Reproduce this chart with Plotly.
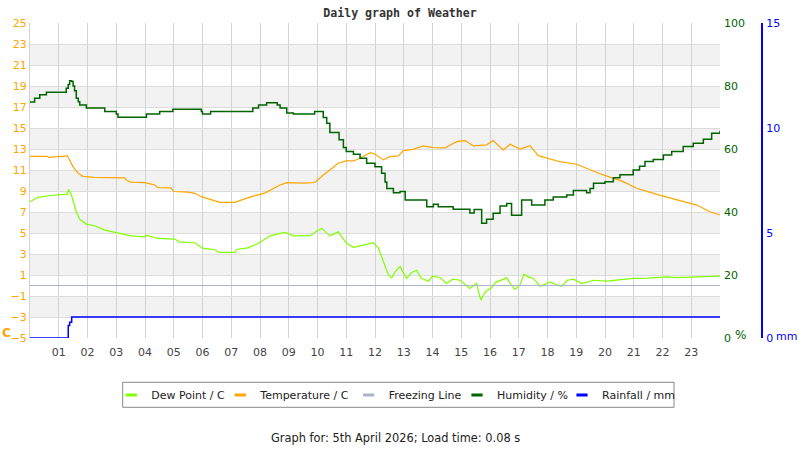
import plotly.graph_objects as go

# ---------------- data ----------------
hour_ticks = list(range(1, 24))
hour_labels = [f"{h:02d}" for h in hour_ticks]

temp_t = [0, 0.6, 0.65, 1.3, 1.5, 1.67, 1.84, 2.25, 3.3, 3.35, 3.5, 4.0, 4.34, 4.45, 4.9, 5.0, 5.5,
          5.73, 5.96, 6.31, 6.6, 7.12, 7.35, 7.7, 8.0, 8.16, 8.7, 8.93, 9.5, 9.85, 9.95, 10.2, 10.43,
          10.72, 11.0, 11.25, 11.48, 11.83, 12.0, 12.29, 12.52, 12.81, 12.99, 13.33, 13.68, 14.03,
          14.43, 14.84, 15.13, 15.42, 15.88, 16.11, 16.46, 16.7, 17.04, 17.39, 17.68, 18.03, 18.43,
          19.01, 19.48, 19.94, 20.64, 21.1, 21.8, 22.49, 23.19, 23.65, 24.0]
temp_v = [12.3, 12.3, 12.2, 12.35, 11.3, 10.7, 10.4, 10.3, 10.25, 10.05, 9.85, 9.8, 9.57, 9.31, 9.3,
          8.95, 8.9, 8.78, 8.46, 8.14, 7.92, 7.92, 8.14, 8.46, 8.68, 8.8, 9.57, 9.8, 9.75, 9.8, 9.9,
          10.53, 11.0, 11.64, 11.86, 11.86, 12.12, 12.65, 12.5, 11.96, 12.27, 12.35, 12.84, 12.96,
          13.29, 13.13, 13.1, 13.7, 13.8, 13.3, 13.4, 13.8, 12.91, 13.45, 13.0, 13.32, 12.37, 12.12,
          11.79, 11.55, 11.0, 10.53, 9.89, 9.26, 8.68, 8.14, 7.66, 7.02, 6.71]

dew_t = [0, 0.28, 0.63, 1.2, 1.3, 1.34, 1.44, 1.61, 1.73, 1.96, 2.25, 2.6, 3.0, 3.52, 3.99, 4.05,
         4.45, 5.03, 5.2, 5.73, 6.02, 6.4, 6.6, 7.12, 7.2, 7.58, 7.93, 8.1, 8.35, 8.7, 8.88, 9.16,
         9.74, 10.03, 10.15, 10.43, 10.72, 11.02, 11.25, 11.6, 11.94, 12.12, 12.29, 12.47, 12.58,
         12.7, 12.87, 13.0, 13.1, 13.25, 13.45, 13.6, 13.86, 14.0, 14.26, 14.49, 14.7, 14.96, 15.3,
         15.53, 15.68, 15.83, 16.06, 16.2, 16.35, 16.58, 16.7, 16.87, 17.04, 17.18, 17.35, 17.51,
         17.74, 18.09, 18.3, 18.49, 18.7, 18.9, 19.19, 19.6, 20.06, 20.5, 20.99, 21.5, 22.15, 22.5,
         22.96, 23.5, 24.0]
dew_v = [7.98, 8.4, 8.55, 8.62, 8.7, 9.16, 8.62, 7.02, 6.3, 5.85, 5.69, 5.28, 5.02, 4.73, 4.64, 4.8,
         4.48, 4.42, 4.16, 4.07, 3.53, 3.43, 3.15, 3.15, 3.43, 3.59, 4.0, 4.3, 4.73, 4.96, 5.05, 4.73,
         4.75, 5.28, 5.44, 4.73, 5.11, 4.0, 3.63, 3.85, 4.07, 3.53, 2.25, 0.98, 0.73, 1.3, 1.8, 1.1,
         0.67, 1.2, 1.46, 0.7, 0.41, 0.9, 0.76, 0.19, 0.6, 0.5, -0.29, 0.2, -1.4, -0.61, -0.19,
         0.3, 0.5, 0.73, 0.2, -0.38, 0.03, 1.08, 0.8, 0.67, -0.07, 0.34, 0.1, -0.07, 0.5, 0.6, 0.19,
         0.5, 0.41, 0.55, 0.67, 0.7, 0.82, 0.75, 0.82, 0.85, 0.89]

hum_t = [0, 0.16, 0.34, 0.57, 1.26, 1.33, 1.38, 1.45, 1.5, 1.55, 1.61, 1.68, 1.73, 1.96, 2.6, 3.0,
         3.06, 4.05, 4.51, 4.97, 5.96, 6.0, 6.28, 7.75, 7.95, 8.23, 8.6, 8.7, 8.93, 9.16, 9.9, 10.2,
         10.32, 10.43, 10.75, 10.9, 11.0, 11.25, 11.48, 11.71, 12.0, 12.23, 12.35, 12.41, 12.64,
         12.87, 13.05, 13.8, 14.03, 14.2, 14.72, 15.3, 15.45, 15.71, 15.88, 16.11, 16.35, 16.58,
         16.75, 17.1, 17.45, 17.91, 18.2, 18.67, 18.9, 19.36, 19.48, 19.6, 20.0, 20.29, 20.52,
         20.98, 21.2, 21.39, 21.68, 22.03, 22.32, 22.72, 23.07, 23.42, 23.71, 24.0]
hum_v = [74.9, 76.1, 77.2, 78.0, 79.3, 80.5, 81.7, 81.4, 80.0, 78.5, 76.1, 75.0, 74.0, 73.0, 71.9,
         71.1, 70.1, 71.1, 71.9, 72.6, 71.9, 71.1, 71.9, 73.0, 74.0, 74.7, 74.0, 73.0, 71.4, 71.1,
         71.9, 70.0, 68.2, 65.2, 62.9, 60.5, 59.2, 58.3, 57.1, 55.5, 54.4, 52.3, 49.5, 47.5, 46.1,
         46.5, 43.8, 41.7, 42.5, 41.7, 40.9, 39.7, 40.8, 36.4, 37.7, 39.6, 41.9, 42.7, 39.0, 43.8,
         42.2, 43.8, 44.8, 45.4, 46.8, 46.1, 47.5, 49.1, 49.6, 50.9, 51.8, 53.3, 54.5, 56.0, 56.7,
         58.1, 59.2, 60.8, 61.8, 63.1, 65.0, 65.8]

rain_t = [0, 1.33, 1.38, 1.45, 24.0]
rain_v = [0, 0.6, 0.75, 1.0, 1.0]

freeze_t = [0, 24]
freeze_v = [0, 0]

temp_ticks = list(range(-5, 26, 2))
hum_ticks = [0, 20, 40, 60, 80, 100]
rain_ticks = [0, 5, 10, 15]

series_names = ["Dew Point / C", "Temperature / C", "Freezing Line", "Humidity / %", "Rainfall / mm"]

# ---------------- styles ----------------
C_DEW = "#80ff00"
C_TEMP = "#ffa500"
C_FREEZE = "#a9b6ca"
C_HUM = "#006400"
C_RAIN = "#0000ff"
FONT = "DejaVu Sans"
colors = [C_DEW, C_TEMP, C_FREEZE, C_HUM, C_RAIN]
legend_text_x = [149.3, 258.3, 386.7, 495, 600]   # page px where each legend label starts

L, R = 30, 10
PW = 800 - L - R
PLOT_R = 720
def px(xp):
    return (xp - L) / PW
def py(yp):
    return (338 - yp) / 315

fig = go.Figure()
fig.add_trace(go.Scatter(x=dew_t, y=dew_v, mode="lines", line=dict(color=C_DEW, width=1.2),
                         showlegend=False, yaxis="y"))
fig.add_trace(go.Scatter(x=temp_t, y=temp_v, mode="lines", line=dict(color=C_TEMP, width=1.2),
                         showlegend=False, yaxis="y"))
fig.add_trace(go.Scatter(x=freeze_t, y=freeze_v, mode="lines", line=dict(color=C_FREEZE, width=1.2),
                         showlegend=False, yaxis="y"))
fig.add_trace(go.Scatter(x=hum_t, y=hum_v, mode="lines", line=dict(color=C_HUM, width=1.5, shape="hv"),
                         showlegend=False, yaxis="y2"))
fig.add_trace(go.Scatter(x=rain_t, y=rain_v, mode="lines", line=dict(color=C_RAIN, width=1.5, shape="hv"),
                         showlegend=False, yaxis="y3"))

legend_layouts = {}
for i, (name, col) in enumerate(zip(series_names, colors)):
    lname = "legend" if i == 0 else f"legend{i + 1}"
    fig.add_trace(go.Scatter(x=[None], y=[None], mode="markers", name=name, legend=lname,
                             marker=dict(symbol="line-ew", size=8, line=dict(color=col, width=3))))
    legend_layouts[lname] = dict(x=px(legend_text_x[i] - 38), xanchor="left", y=py(395),
                                 yanchor="middle", orientation="h", bgcolor="rgba(0,0,0,0)",
                                 borderwidth=0, font=dict(family=FONT, size=11, color="#222222"),
                                 itemwidth=30)

shapes = []
for lo in [21, 17, 13, 9, 5, 1, -3]:
    shapes.append(dict(type="rect", xref="x", yref="y", x0=0, x1=24, y0=lo, y1=lo + 2,
                       fillcolor="#f2f2f2", line=dict(width=0), layer="below"))
# legend frame
shapes.append(dict(type="rect", xref="paper", yref="paper", x0=px(122.7), x1=px(674),
                   y0=py(407.3), y1=py(382.3), line=dict(color="#888888", width=1),
                   fillcolor="rgba(0,0,0,0)", layer="below"))

def note(text, x, y, size, color):
    return dict(text=text, xref="paper", yref="paper", x=px(x), y=py(y), xanchor="center",
                yanchor="middle", showarrow=False, font=dict(family=FONT, size=size, color=color))

fig.update_layout(
    width=800, height=450,
    margin=dict(l=L, r=R, t=23, b=112),
    paper_bgcolor="white", plot_bgcolor="white",
    title=dict(text="<b>Daily graph of Weather</b>", x=0.5, xref="container", xanchor="center",
               y=1 - 13 / 450, yanchor="middle", yref="container",
               font=dict(family="DejaVu Sans Mono", size=11.6, color="#333333")),
    xaxis=dict(domain=[0, px(PLOT_R)], range=[0, 24], tickvals=hour_ticks, ticktext=hour_labels,
               showgrid=True, gridcolor="#d3d3d3", gridwidth=1, zeroline=False, showline=False,
               ticks="", ticklabelstandoff=6, tickfont=dict(family=FONT, size=11, color="#444444")),
    yaxis=dict(range=[-5, 25], tickvals=temp_ticks, showgrid=True, gridcolor="#dcdcdc", gridwidth=1,
               zeroline=False, showline=True, linecolor="#d3d3d3", linewidth=1, ticks="",
               tickfont=dict(family=FONT, size=11, color=C_TEMP)),
    yaxis2=dict(range=[0, 100], tickvals=hum_ticks, overlaying="y", side="right", anchor="x",
                showgrid=False, zeroline=False, showline=False, ticks="", ticklabelstandoff=3,
                tickfont=dict(family=FONT, size=11, color=C_HUM)),
    yaxis3=dict(range=[0, 15], tickvals=rain_ticks, overlaying="y", side="right", anchor="free",
                position=px(762), showgrid=False, zeroline=False, showline=True,
                linecolor=C_RAIN, linewidth=2, ticks="", ticklabelstandoff=1,
                tickfont=dict(family=FONT, size=11, color=C_RAIN)),
    shapes=shapes,
    annotations=[
        note("<b>C</b>", 6.5, 333, 12, C_TEMP),
        note("%", 740, 335, 12, C_HUM),
        note("mm", 786, 336, 11, C_RAIN),
        note("Graph for: 5th April 2026; Load time: 0.08 s", 395.5, 438, 11.4, "#222222"),
    ],
    **legend_layouts,
)

fig.write_html("out.html", config={"displayModeBar": False},
               post_script="document.body.style.margin='0px';")
